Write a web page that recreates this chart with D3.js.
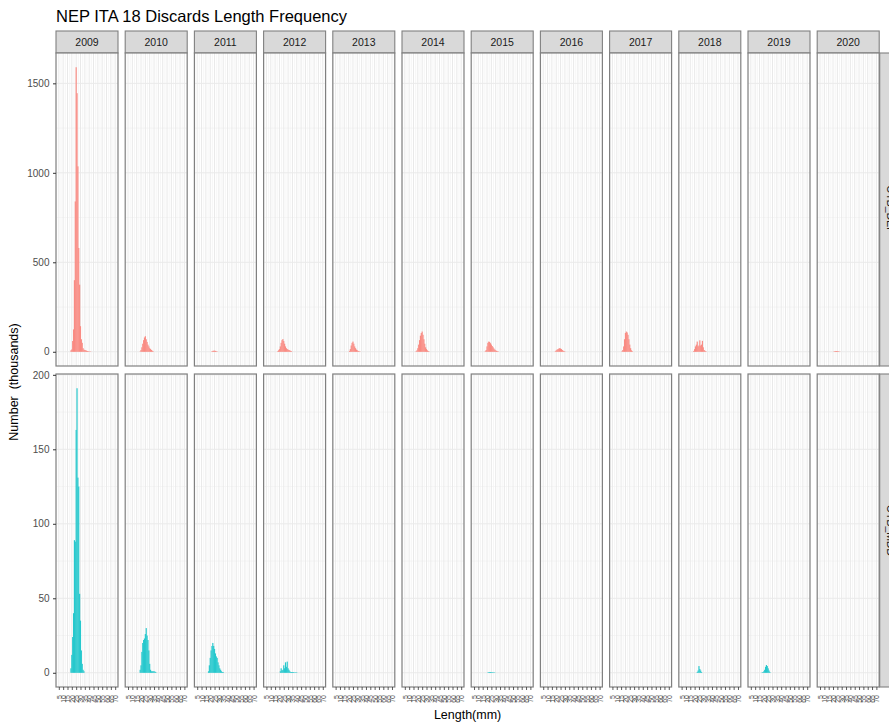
<!DOCTYPE html>
<html><head><meta charset="utf-8">
<script src="https://cdn.jsdelivr.net/npm/d3@7"></script>
<style>body{margin:0;background:#fff} svg{display:block}</style>
</head><body><svg id="c" width="889" height="722"></svg>
<script>
// ---------- data ----------
const title = "NEP ITA 18 Discards Length Frequency";
const years = [2009,2010,2011,2012,2013,2014,2015,2016,2017,2018,2019,2020];
const gears = ["OTB_DEF","OTB_MDD"];
const xBreaks = [5,10,15,20,25,30,35,40,45,50,55,60,65,70];
const yBreaksDef = [0,500,1000,1500];
const yBreaksMdd = [0,50,100,150,200];

// first length class (mm) of each year's series, and the values (thousands)
const defFirstLen = [19,19,22,18,21,18,18,19,16,19,21,21];
const defValues = [
  [8,13,60,125,400,840,1590,1445,1036,580,375,143,70,50,20,12,10,8,6,4,3,2,2,1],
  [2,10,25,45,65,80,87,70,55,40,30,20,15,10,6,3],
  [3,5,6,6,5,3,2],
  [3,8,15,30,50,65,71,60,45,30,20,15,12,10,8,5,3],
  [5,15,35,50,57,45,30,20,12,8,5,3,2],
  [3,8,20,40,65,90,105,113,95,70,45,25,15,8,4,2],
  [3,10,30,50,57,55,48,40,32,25,18,12,8,5,3,2],
  [3,8,12,15,18,20,18,15,10,6,4,2],
  [3,10,30,70,105,113,108,95,70,40,20,8,3],
  [5,15,30,40,57,30,35,64,35,40,61,25,10,5,3],
  [],
  [2,3,4,4,4,3,2,1]
];
const mddFirstLen = [19,19,18,21,21,21,21,21,21,23,18,21];
const mddValues = [
  [3,12,24,40,89,88,163,191,131,125,53,35,15,6,2,1],
  [2,5,14,20,22,23,26,30,25,22,15,6,2,1,1,1,1,0.8,0.5],
  [1,5,10,15,18,20,18,16,13,11,10,7,5,3,2,1,0.5,0.5],
  [1,3,1.5,2,5,3,7,4,7.5,3,2,1,0.5,0.5,0.5,0.5,0.3,0.3,0.3,0.3],
  [],
  [],
  [0.3,0.4,0.5,0.5,0.4,0.4,0.3,0.3,0.2],
  [],
  [],
  [0.5,1.5,4.5,2.5,1.5,0.5],
  [0.3,0.5,1,2,4,5.2,4.5,3,1.5,0.5],
  []
];
const gearColors = ["#F98B83","#26C8CD"];

// ---------- layout ----------
const svg = d3.select("#c");
const font = "'Liberation Sans', Arial, sans-serif";
const left0 = 56, panelW = 62, step = 69.2;
const stripTop = 31, stripH = 22;
const rowTop = [53, 374], panelH = 313;
const rightStripW = 22;

const x = d3.scaleLinear().domain([1.75, 73.25]).range([0, panelW]);
function expand(max){ const e = max*0.05; return [-e, max+e]; }
const maxDef = d3.max(defValues.flat()), maxMdd = d3.max(mddValues.flat());
const yScales = [
  d3.scaleLinear().domain(expand(maxDef)).range([panelH, 0]),
  d3.scaleLinear().domain(expand(maxMdd)).range([panelH, 0])
];
const yBreaks = [yBreaksDef, yBreaksMdd];
const allValues = [defValues, mddValues];
const allFirst = [defFirstLen, mddFirstLen];

// title
svg.append("text").attr("x", 56).attr("y", 22).attr("font-family", font)
  .attr("font-size", 16.5).attr("fill", "#000").text(title);

const xMinor = [2.5].concat(xBreaks.map(b => b + 2.5));

years.forEach((yr, i) => {
  const px = left0 + i*step;
  svg.append("rect").attr("x", px).attr("y", stripTop).attr("width", panelW).attr("height", stripH)
    .attr("fill", "#D9D9D9").attr("stroke", "#808080").attr("stroke-width", 1.1);
  svg.append("text").attr("x", px + panelW/2).attr("y", stripTop + stripH/2).attr("dy", "0.36em")
    .attr("text-anchor", "middle").attr("font-family", font).attr("font-size", 10.5)
    .attr("fill", "#1A1A1A").text(yr);

  gears.forEach((g, r) => {
    const py = rowTop[r];
    const y = yScales[r];
    const p = svg.append("g").attr("transform", `translate(${px},${py})`);
    p.append("rect").attr("width", panelW).attr("height", panelH).attr("fill", "#fff");
    const yMinor = yBreaks[r].slice(0, -1).map((b, k) => (b + yBreaks[r][k+1]) / 2);
    p.selectAll(".gxm").data(xMinor.filter(v => v > x.domain()[0] && v < x.domain()[1])).enter().append("line")
      .attr("x1", d => x(d)).attr("x2", d => x(d)).attr("y1", 0).attr("y2", panelH)
      .attr("stroke", "#F0F0F0").attr("stroke-width", 0.6);
    p.selectAll(".gym").data(yMinor).enter().append("line")
      .attr("x1", 0).attr("x2", panelW).attr("y1", d => y(d)).attr("y2", d => y(d))
      .attr("stroke", "#F0F0F0").attr("stroke-width", 0.6);
    p.selectAll(".gx").data(xBreaks).enter().append("line")
      .attr("x1", d => x(d)).attr("x2", d => x(d)).attr("y1", 0).attr("y2", panelH)
      .attr("stroke", "#E6E6E6").attr("stroke-width", 0.9);
    p.selectAll(".gy").data(yBreaks[r].filter(v => v <= y.domain()[1])).enter().append("line")
      .attr("x1", 0).attr("x2", panelW).attr("y1", d => y(d)).attr("y2", d => y(d))
      .attr("stroke", "#EAEAEA").attr("stroke-width", 1);
    // bars
    const vals = allValues[r][i], first = allFirst[r][i];
    const data = vals.map((v, k) => ({len: first + k, v}));
    p.selectAll(".bar").data(data).enter().append("rect")
      .attr("x", d => x(d.len - 0.5) - 0.15).attr("width", d => x(d.len + 0.5) - x(d.len - 0.5) + 0.3)
      .attr("y", d => y(d.v)).attr("height", d => y(0) - y(d.v))
      .attr("fill", gearColors[r]);
    p.append("rect").attr("width", panelW).attr("height", panelH).attr("fill", "none")
      .attr("stroke", "#808080").attr("stroke-width", 1.2);

    if (i === 0) {
      const ax = d3.axisLeft(y).tickValues(yBreaks[r].filter(v => v <= y.domain()[1]))
        .tickSize(3).tickPadding(3.5).tickFormat(d3.format("d"));
      const ag = p.append("g").call(ax);
      ag.select(".domain").remove();
      ag.selectAll("line").attr("stroke", "#333").attr("stroke-width", 1);
      ag.selectAll("text").attr("font-family", font).attr("font-size", 10).attr("fill", "#4D4D4D");
    }
    if (r === 1) {
      const ax = d3.axisBottom(x).tickValues(xBreaks).tickSize(3).tickFormat(d3.format("d"));
      const ag = p.append("g").attr("transform", `translate(0,${panelH})`).call(ax);
      ag.select(".domain").remove();
      ag.selectAll("line").attr("stroke", "#333").attr("stroke-width", 0.8);
      ag.selectAll("text").attr("font-family", font).attr("font-size", 7).attr("fill", "#4D4D4D")
        .attr("text-anchor", "end").attr("dy", null).attr("y", null)
        .attr("dominant-baseline", "central")
        .attr("transform", "translate(0,8) rotate(-90)");
    }
  });
});

// right strips (cut by the right edge, as in the reference)
const lastRight = left0 + 11*step + panelW;
gears.forEach((g, r) => {
  svg.append("rect").attr("x", lastRight + 0.5).attr("y", rowTop[r]).attr("width", rightStripW).attr("height", panelH)
    .attr("fill", "#D9D9D9").attr("stroke", "#808080").attr("stroke-width", 1.1);
  const cx = lastRight + 0.5 + rightStripW/2, cy = rowTop[r] + panelH/2;
  svg.append("text").attr("transform", `translate(${cx},${cy}) rotate(90)`)
    .attr("text-anchor", "middle").attr("dy", "0.36em").attr("font-family", font)
    .attr("font-size", 10.5).attr("fill", "#1A1A1A").text(g);
});

// axis titles
svg.append("text").attr("transform", "translate(18,382) rotate(-90)").attr("text-anchor", "middle")
  .attr("font-family", font).attr("font-size", 12.5).attr("fill", "#000")
  .style("white-space", "pre").text("Number  (thousands)");
svg.append("text").attr("x", left0 + (lastRight - left0)/2).attr("y", 719).attr("text-anchor", "middle")
  .attr("font-family", font).attr("font-size", 12.5).attr("fill", "#000").text("Length(mm)");
</script></body></html>
